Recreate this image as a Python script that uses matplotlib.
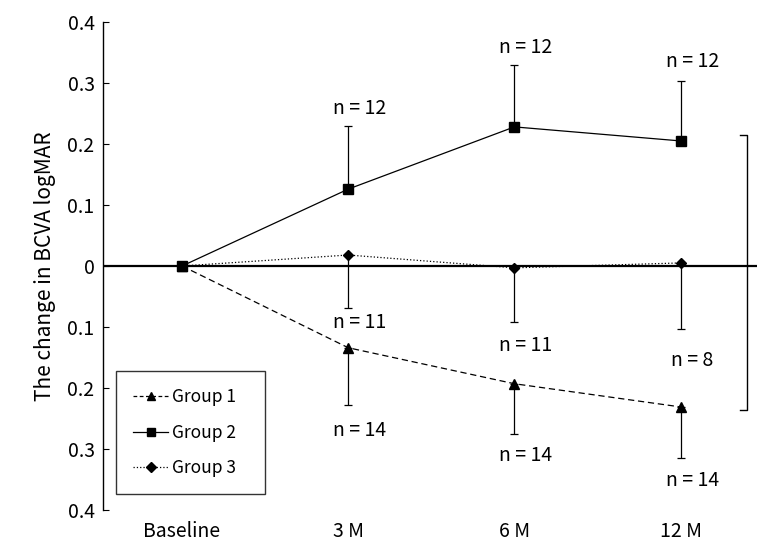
import numpy as np
import matplotlib.pyplot as plt
from matplotlib.lines import Line2D

plt.rcParams['font.family'] = ['Noto Sans CJK JP', 'DejaVu Sans']

# time points
timepoints = ['Baseline', '3 M', '6 M', '12 M']

# mean change in BCVA logMAR
group1_mean = [0.0, -0.134, -0.193, -0.231]
group2_mean = [0.0, 0.126, 0.228, 0.205]
group3_mean = [0.0, 0.018, -0.003, 0.005]

# one-sided error bars (SD)
group1_sd = [0.0, 0.094, 0.083, 0.084]   # downward
group2_sd = [0.0, 0.104, 0.102, 0.099]   # upward
group3_sd = [0.0, 0.087, 0.088, 0.108]   # downward

# sample size labels
n_labels_g2 = ['n = 12', 'n = 12', 'n = 12']
n_labels_g3 = ['n = 11', 'n = 11', 'n = 8']
n_labels_g1 = ['n = 14', 'n = 14', 'n = 14']
n_y_g2 = [0.258, 0.358, 0.335]
n_y_g3 = [-0.093, -0.13, -0.155]
n_y_g1 = [-0.27, -0.31, -0.352]

ytick_vals = [0.4, 0.3, 0.2, 0.1, 0, -0.1, -0.2, -0.3, -0.4]
ytick_text = ['0.4', '0.3', '0.2', '0.1', '0', '0.1', '0.2', '0.3', '0.4']

x = np.arange(len(timepoints))

fig = plt.figure(figsize=(7.57, 5.49), dpi=100)
ax = fig.add_axes([0.136, 0.071, 0.864, 0.889])

# zero line
ax.axhline(0, color='black', lw=1.6, zorder=1)

zeros = np.zeros(len(x))
ax.errorbar(x, group1_mean, yerr=[group1_sd, zeros], fmt='^--', color='black',
            ms=7, lw=0.9, elinewidth=0.9, capsize=3, capthick=0.9,
            dashes=(5, 3), zorder=3)
ax.errorbar(x, group2_mean, yerr=[zeros, group2_sd], fmt='s-', color='black',
            ms=7, lw=0.9, elinewidth=0.9, capsize=3, capthick=0.9, zorder=3)
ax.errorbar(x, group3_mean, yerr=[group3_sd, zeros], fmt='D:', color='black',
            ms=5.5, lw=0.9, elinewidth=0.9, capsize=3, capthick=0.9, zorder=3)

for i in range(3):
    ax.text(x[i + 1] + 0.07, n_y_g2[i], n_labels_g2[i], ha='center', va='center', fontsize=14)
    ax.text(x[i + 1] + 0.07, n_y_g3[i], n_labels_g3[i], ha='center', va='center', fontsize=14)
    ax.text(x[i + 1] + 0.07, n_y_g1[i], n_labels_g1[i], ha='center', va='center', fontsize=14)

# bracket on the right
ax.plot([3.355, 3.40, 3.40, 3.355], [0.215, 0.215, -0.236, -0.236], color='black', lw=1.0)

ax.set_xlim(-0.476, 3.46)
ax.set_ylim(-0.4, 0.4)
ax.set_xticks(x)
ax.set_xticklabels(timepoints, fontsize=14)
ax.set_yticks(ytick_vals)
ax.set_yticklabels(ytick_text, fontsize=14)
ax.tick_params(axis='x', length=0, pad=8)
ax.tick_params(axis='y', direction='in', length=4, pad=6)
for s in ['top', 'right', 'bottom']:
    ax.spines[s].set_visible(False)
ax.spines['left'].set_linewidth(1.0)

ax.set_ylabel('The change in BCVA logMAR', fontsize=15, labelpad=8)

handles = [
    Line2D([], [], color='black', ls=(0, (3, 2)), lw=0.9, marker='^', ms=6),
    Line2D([], [], color='black', ls='-', lw=0.9, marker='s', ms=6),
    Line2D([], [], color='black', ls=':', lw=0.9, marker='D', ms=5),
]
leg = ax.legend(handles, ['Group 1   ', 'Group 2   ', 'Group 3   '],
                loc='lower left', bbox_to_anchor=(0.02, 0.032), fontsize=12.5,
                frameon=True, fancybox=False, edgecolor='black',
                handlelength=2.0, handletextpad=0.2, labelspacing=1.0,
                borderpad=1.0, borderaxespad=0)
leg.get_frame().set_linewidth(1.0)

fig.savefig('out.png', dpi=100)
